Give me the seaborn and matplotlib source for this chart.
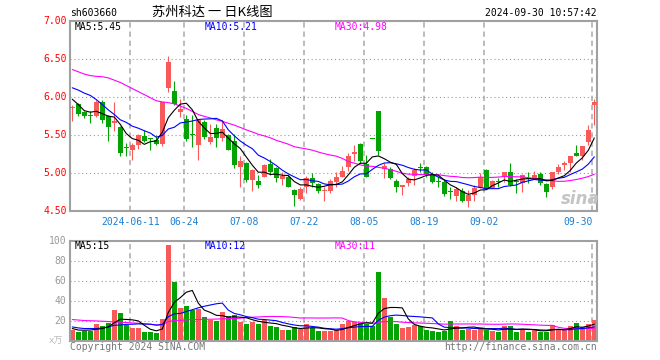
import numpy as np
import pandas as pd
import matplotlib
matplotlib.use("Agg")
import matplotlib.pyplot as plt
import seaborn as sns

# ---------------- data ----------------
holidays = ["2024-06-10", "2024-09-16", "2024-09-17"]
dates = [d for d in pd.bdate_range("2024-05-27", "2024-09-30")
         if d.strftime("%Y-%m-%d") not in holidays]

opens = [5.85, 5.91, 5.80, 5.75, 5.745, 5.94, 5.75, 5.66, 5.61, 5.33,
         5.30, 5.37, 5.49, 5.45, 5.43, 5.385, 6.12, 6.08, 5.80, 5.715,
         5.50, 5.37, 5.665, 5.415, 5.59, 5.46, 5.50, 5.425, 5.08, 5.14,
         4.91, 4.90, 4.955, 5.12, 5.07, 4.92, 4.955, 4.78, 4.66, 4.825,
         4.935, 4.855, 4.76, 4.76, 4.89, 4.955, 5.085, 5.255, 5.385, 5.12,
         5.45, 5.81, 5.05, 5.05, 4.90, 4.815, 4.87, 4.965, 5.065, 5.075,
         4.985, 4.89, 4.89, 4.75, 4.705, 4.77, 4.635, 4.715, 4.81, 5.045,
         4.81, 4.89, 4.945, 5.01, 4.89, 4.87, 4.92, 4.94, 4.99, 4.86,
         4.815, 5.01, 5.11, 5.14, 5.265, 5.23, 5.415, 5.89]
highs = [5.89, 5.92, 5.82, 5.81, 5.965, 5.965, 5.76, 5.93, 5.62, 5.40,
         5.40, 5.52, 5.56, 5.455, 5.49, 5.94, 6.535, 6.205, 5.97, 5.765,
         5.765, 5.715, 5.70, 5.64, 5.64, 5.70, 5.51, 5.51, 5.23, 5.15,
         5.05, 4.98, 5.12, 5.19, 5.085, 5.01, 4.98, 4.79, 4.825, 4.965,
         5.00, 4.87, 4.825, 4.92, 5.01, 5.095, 5.265, 5.375, 5.395, 5.24,
         5.45, 5.81, 5.13, 5.08, 4.92, 4.845, 4.955, 5.065, 5.13, 5.095,
         5.01, 4.965, 4.91, 4.825, 4.825, 4.80, 4.78, 4.845, 5.00, 5.05,
         4.91, 4.935, 5.02, 5.13, 4.92, 4.99, 5.01, 5.03, 5.01, 4.875,
         5.02, 5.12, 5.16, 5.23, 5.375, 5.36, 5.635, 5.975]
lows = [5.68, 5.75, 5.72, 5.66, 5.735, 5.66, 5.42, 5.55, 5.22, 5.23,
        5.17, 5.32, 5.41, 5.31, 5.37, 5.36, 6.06, 5.90, 5.74, 5.42,
        5.34, 5.175, 5.445, 5.385, 5.34, 5.42, 5.30, 5.065, 4.82, 4.88,
        4.76, 4.80, 4.95, 4.98, 4.89, 4.84, 4.815, 4.57, 4.65, 4.745,
        4.825, 4.745, 4.64, 4.745, 4.825, 4.95, 5.035, 5.155, 5.14, 4.95,
        5.45, 5.24, 4.935, 4.92, 4.755, 4.71, 4.83, 4.84, 5.01, 4.955,
        4.87, 4.825, 4.705, 4.655, 4.64, 4.625, 4.56, 4.64, 4.80, 4.79,
        4.80, 4.825, 4.89, 4.835, 4.745, 4.755, 4.87, 4.92, 4.84, 4.685,
        4.79, 4.99, 5.045, 5.01, 5.22, 5.175, 5.37, 5.635]
closes = [5.86, 5.77, 5.75, 5.75, 5.93, 5.70, 5.61, 5.69, 5.27, 5.33,
          5.37, 5.50, 5.42, 5.445, 5.385, 5.93, 6.46, 5.91, 5.84, 5.45,
          5.50, 5.70, 5.48, 5.47, 5.46, 5.58, 5.305, 5.11, 5.16, 4.91,
          5.04, 4.845, 5.11, 5.01, 4.935, 4.965, 4.825, 4.715, 4.79, 4.94,
          4.87, 4.76, 4.78, 4.90, 4.955, 5.035, 5.22, 5.275, 5.165, 4.955,
          5.45, 5.285, 5.095, 4.935, 4.815, 4.845, 4.92, 5.045, 5.065, 4.98,
          4.89, 4.89, 4.725, 4.75, 4.79, 4.635, 4.715, 4.81, 4.945, 4.81,
          4.90, 4.89, 5.01, 4.845, 4.89, 4.98, 4.92, 4.98, 4.87, 4.75,
          5.01, 5.075, 5.13, 5.22, 5.23, 5.35, 5.57, 5.94]
volumes = [11, 9, 10, 10, 16.3, 14.3, 17.6, 30.3, 28, 15.3,
           12.3, 12.3, 8.3, 8.3, 7.3, 21.3, 95.3, 58.6, 32.3, 34.3,
           30.3, 31.6, 23.6, 21, 19.6, 28.6, 24.3, 25.3, 19, 17,
           18.6, 16.3, 20.6, 15, 14, 10.6, 10.6, 13.6, 11.3, 16.3,
           12.3, 9.6, 9.6, 9.3, 10.3, 16.3, 19.6, 19, 18, 16.3,
           14.3, 68.6, 42.6, 23.6, 16.3, 12.3, 13.3, 15.3, 14.3, 10.6,
           9.6, 8.3, 10, 19.6, 14.3, 10.6, 12, 11, 13.3, 10.6,
           9.6, 8.3, 14.3, 14.3, 8.6, 11.3, 8.3, 12, 8.6, 8.6,
           15.6, 10.6, 10.6, 14.3, 17.6, 13.3, 16.3, 20.3]

# moving-average values before enough history is visible
ma5_head = [5.97, 5.90, 5.82, 5.80]
ma10_head = [6.12, 6.09, 6.05, 6.02, 5.965, 5.90, 5.83, 5.77, 5.70]
ma30_head = [6.36, 6.33, 6.30, 6.28, 6.27, 6.265, 6.25, 6.22, 6.19, 6.15,
             6.11, 6.07, 6.03, 5.99, 5.95, 5.935, 5.925, 5.91, 5.88, 5.85,
             5.81, 5.77, 5.745, 5.725, 5.70, 5.68, 5.655, 5.63, 5.60]
vma5_head = [12, 10.5, 10.3, 10.5]
vma10_head = [13.6, 12.6, 12, 12, 12, 12.6, 13.6, 15.3, 15.5]
vma30_head = [21, 20.5, 20, 19.8, 19.6, 19.3, 19, 18.6, 18.3, 18,
              17.6, 17.3, 16.8, 16.3, 15.6, 15.5, 19, 20, 20.3, 20.6,
              21, 21, 21.3, 21.3, 21.5, 21.6, 22, 22, 22.3]

price_ma_last = [5.45, 5.21, 4.98]
vol_ma_last = [15, 12, 11]
tick_dates = ["2024-06-11", "2024-06-24", "2024-07-08", "2024-07-22",
              "2024-08-05", "2024-08-19", "2024-09-02", "2024-09-30"]
price_ticks = [4.50, 5.00, 5.50, 6.00, 6.50, 7.00]
vol_ticks = [20, 40, 60, 80, 100]

# ---------------- derived ----------------
N = len(closes)
x = np.arange(N)
o = np.array(opens); h = np.array(highs); l = np.array(lows); c = np.array(closes)
v = np.array(volumes)


def moving(series, n, head):
    m = pd.Series(series).rolling(n).mean().to_numpy()
    m[:len(head)] = head
    return m


ma5 = moving(c, 5, ma5_head)
ma10 = moving(c, 10, ma10_head)
ma30 = moving(c, 30, ma30_head)
vma5 = moving(v, 5, vma5_head)
vma10 = moving(v, 10, vma10_head)
vma30 = moving(v, 30, vma30_head)

RED = "#f85a5a"
GREEN = "#03a303"
up = c > o
colors = np.where(up, RED, GREEN)
date_str = [d.strftime("%Y-%m-%d") for d in dates]
tick_idx = [date_str.index(t) for t in tick_dates]

# ---------------- figure ----------------
sns.set_theme(style="white")
plt.rcParams["font.family"] = ["DejaVu Sans Mono", "Noto Sans CJK SC"]
W, H = 660, 360
fig = plt.figure(figsize=(W / 100, H / 100), dpi=100)
fig.patch.set_facecolor("white")


def fx(px):
    return px / W


def fy(py):
    return 1 - py / H


L_, R_ = 70.3, 597.0
axp = fig.add_axes([fx(L_), fy(211.3), fx(R_ - L_), (211.3 - 20.7) / H])
axv = fig.add_axes([fx(L_), fy(340.5), fx(R_ - L_), (340.5 - 240.7) / H])

xl = (-0.333, (R_ - 72.3) / 6.0)
BORDER = "#a0a0a0"
for ax in (axp, axv):
    ax.set_facecolor("white")
    for s in ax.spines.values():
        s.set_color(BORDER)
        s.set_linewidth(1.5)
    ax.set_xlim(*xl)
    ax.set_xticks([])
    ax.set_yticks([])
    for ti in tick_idx:
        ax.axvline(ti - 0.333, color="#aaaaaa", lw=1.1, ls=(0, (3.5, 2.5)), zorder=0)

# price panel
axp.set_ylim(4.5, 7.0)
for p in price_ticks[1:-1]:
    axp.axhline(p, color="#999999", lw=0.8, ls=(0, (1, 2.5)), zorder=0)
axp.vlines(x, l, h, colors=colors, lw=0.8, zorder=2)
body_lo = np.minimum(o, c)
body_h = np.maximum(np.abs(c - o), 0.012)
axp.bar(x, body_h, bottom=body_lo, width=0.8, color=colors, linewidth=0, zorder=3)
dfp = pd.DataFrame({"x": x, "MA5": ma5, "MA10": ma10, "MA30": ma30})
for col, colr in (("MA30", "#ff00ff"), ("MA10", "#0000ff"), ("MA5", "#000000")):
    sns.lineplot(data=dfp, x="x", y=col, color=colr, lw=0.8, ax=axp, zorder=4)
axp.set_xlabel(""); axp.set_ylabel("")
axp.set_xlim(*xl)

# volume panel
axv.set_ylim(0, 100)
for p in vol_ticks[:-1]:
    axv.axhline(p, color="#999999", lw=0.8, ls=(0, (1, 2.5)), zorder=0)
dfv = pd.DataFrame({"x": x, "v": v, "dir": np.where(up, "up", "down"),
                    "MA5": vma5, "MA10": vma10, "MA30": vma30})
sns.barplot(data=dfv, x="x", y="v", hue="dir", palette={"up": RED, "down": GREEN},
            native_scale=True, dodge=False, width=0.8, saturation=1,
            linewidth=0, legend=False, ax=axv, zorder=2)
for col, colr in (("MA30", "#ff00ff"), ("MA10", "#0000ff"), ("MA5", "#000000")):
    sns.lineplot(data=dfv, x="x", y=col, color=colr, lw=0.8, ax=axv, zorder=4)
axv.set_xlabel(""); axv.set_ylabel("")
axv.set_xlim(*xl)
axv.set_ylim(0, 100)
axv.set_xticks([]); axv.set_yticks([])

# ---------------- texts ----------------
FS = 7
for p in price_ticks:
    fig.text(fx(66.5), fy(211.3 - (p - 4.5) * 76.24), f"{p:.2f}", color="#ff0000",
             ha="right", va="center", fontsize=FS)
for p in vol_ticks:
    fig.text(fx(66.5), fy(340.5 - p * 0.998), f"{p}", color="#999999",
             ha="right", va="center", fontsize=FS)
fig.text(fx(63), fy(341), "x万", color="#bbbbbb", ha="right", va="center", fontsize=6.5,
         family=["DejaVu Sans Mono", "Noto Sans CJK SC"])

for k, ti in enumerate(tick_idx):
    px = 72.3 + 6 * ti - 2
    lab = tick_dates[k] if k == 0 else tick_dates[k][5:]
    ha = "right" if k == len(tick_idx) - 1 else "center"
    fig.text(fx(px), fy(221.7), lab, color="#1a7fd4", ha=ha, va="center", fontsize=FS)

ma_cols = ["#000000", "#0000ff", "#ff00ff"]
ma_names = ["MA5", "MA10", "MA30"]
ma_x = [74.5, 205, 335]
for name, val, colr, mx in zip(ma_names, price_ma_last, ma_cols, ma_x):
    fig.text(fx(mx), fy(26.5), f"{name}:{val:.2f}", color=colr, ha="left",
             va="center", fontsize=FS)
for name, val, colr, mx in zip(ma_names, vol_ma_last, ma_cols, ma_x):
    fig.text(fx(mx), fy(246), f"{name}:{val}", color=colr, ha="left",
             va="center", fontsize=FS)

fig.text(fx(70), fy(12.5), "sh603660", color="#000000", ha="left", va="center", fontsize=FS)
fig.text(fx(212), fy(12.5), "苏州科达 一 日K线图", color="#000000", ha="center",
         va="center", fontsize=9.5, family=["Noto Sans CJK SC", "DejaVu Sans"])
fig.text(fx(597), fy(12.5), "2024-09-30 10:57:42", color="#000000", ha="right",
         va="center", fontsize=FS)
fig.text(fx(70), fy(346.5), "Copyright 2024 SINA.COM", color="#777777", ha="left",
         va="center", fontsize=FS)
fig.text(fx(597), fy(346.5), "http://finance.sina.com.cn", color="#777777", ha="right",
         va="center", fontsize=FS)
fig.text(fx(580), fy(199), "sina", color="#c4c4c4", ha="center", va="center",
         fontsize=12, fontstyle="italic", fontweight="bold", family="DejaVu Sans", zorder=1)

fig.savefig("out.png", dpi=100, facecolor="white")
